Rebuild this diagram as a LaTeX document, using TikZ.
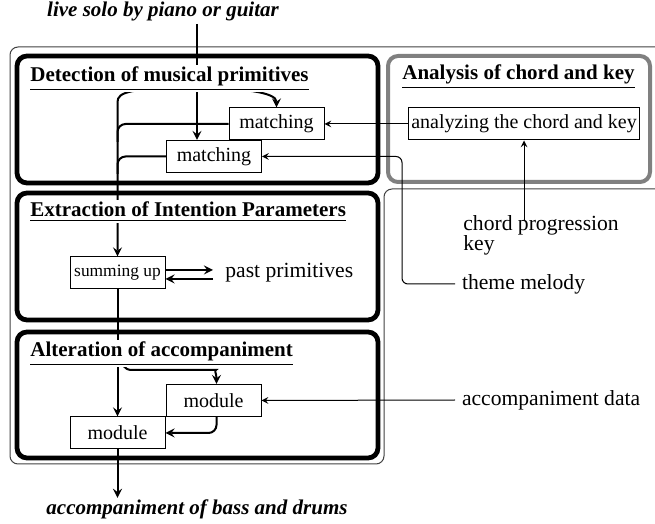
\documentclass[tikz,border=0pt]{standalone}
\usepackage{fontspec}
\setmainfont{Liberation Serif}
\usetikzlibrary{arrows, positioning, calc}
\tikzset{
	stage-box/.style={
		draw=black, line width=2.4pt,
		rounded corners=5pt
	},
	chord-box/.style={
		draw=black!50, line width=2pt,
		rounded corners=5pt
	},
	frame-line/.style={
		draw=black!75, line width=0.5pt,
		rounded corners=4pt
	},
	stage-title/.style={
		font=\fontsize{10.5}{12}\selectfont\bfseries,
		fill=white, inner sep=1pt,
		anchor=base west
	},
	proc-node/.style={
		rectangle,
		draw=black, line width=0.5pt,
		fill=white,
		font=\fontsize{10}{12}\selectfont,
		minimum height=16pt,
		minimum width=47.5pt,
		inner xsep=1.5pt, inner ysep=0pt,
		text centered
	},
	io-text/.style={
		font=\fontsize{10.5}{12}\selectfont\bfseries\itshape,
		inner sep=1pt
	},
	data-text/.style={
		font=\fontsize{10.8}{10}\selectfont,
		align=left, anchor=west
	},
	flow-edge/.style = {line width=1pt, ->, >=stealth, rounded corners=4pt},
	feed-edge/.style = {line width=0.5pt, ->, >=stealth, rounded corners=3pt},
}
\begin{document}
\begin{tikzpicture}[x=0.5pt, y=-0.5pt]
	\useasboundingbox (0,0) rectangle (655,524);
	% frame and stages
	\draw[frame-line] (10,47) -- (664,47) -- (664,189) -- (384,189) -- (384,464) -- (10,464) -- cycle;
	\draw[stage-box] (17,56) rectangle (378,183);
	\draw[chord-box] (388,56) rectangle (650,182);
	\draw[stage-box] (17,193) rectangle (378,320);
	\draw[stage-box] (17,332) rectangle (378,458);

	% processing nodes
	\node (match-a) [proc-node] at (276.5,124) {matching};
	\node (match-b) [proc-node] at (214,156.5) {matching};
	\node (analyze) [proc-node] at (524,124) {analyzing the chord and key};
	\node (sum) [proc-node, font=\fontsize{8.7}{10}\selectfont] at (117.5,273) {summing up};
	\node (mod-a) [proc-node] at (213.5,400.5) {module};
	\node (mod-b) [proc-node] at (117.5,433) {module};

	% inputs and outputs
	\node (solo) [io-text, anchor=base] at (163,17) {live solo by piano or guitar};
	\node (drums) [io-text, anchor=base] at (197,515) {accompaniment of bass and drums};
	\node (chord) [data-text, anchor=base west, inner sep=0pt] at (463,251) {chord progression\\key};
	\node (theme) [data-text] at (455,284) {theme melody};
	\node (past) [data-text, inner xsep=6pt] at (213,273) {past primitives};
	\node (accdata) [data-text] at (455,400) {accompaniment data};

	\coordinate (split) at (197,88);
	\coordinate (alt-split) at (122,362);

	% detection
	\draw[flow-edge, -] (solo.south -| split) -- (split);
	\draw[flow-edge] (split) -- (split |- match-b.north);
	\draw[flow-edge] (split) .. controls (240,88) and (276.5,92) .. (match-a.north);
	\draw[flow-edge] (split) .. controls (130,88) and (117.5,92) .. (117.5,110) -- (sum.north);
	\draw[flow-edge, -] (match-a.west) -- (117.5,124) -- (117.5,142);
	\draw[flow-edge, -] (match-b.west) -- (117.5,156.5) -- (117.5,174);
	\draw[feed-edge] (analyze.west) -- (match-a.east);
	\draw[feed-edge] (theme.west) -- (402,284) |- (match-b.east);
	\draw[feed-edge] ([yshift=-2pt]chord.north -| analyze.south) -- (analyze.south);

	% extraction
	\draw[flow-edge] ([yshift=1.5pt]sum.east) -- ([yshift=1.5pt]sum.east -| past.west);
	\draw[flow-edge] ([yshift=-3pt]past.west) -- ([yshift=-3pt]past.west -| sum.east);

	% alteration
	\draw[flow-edge] (sum.south) -- (mod-b.north);
	\draw[flow-edge] (alt-split) .. controls (124,370) and (130,370) .. (140,370) -- (208,370)
		.. controls (214,370) and (216.5,374) .. ([xshift=1.5pt]mod-a.north);
	\draw[flow-edge] ([xshift=1.5pt]mod-a.south) |- (mod-b.east);
	\draw[feed-edge] (accdata.west) -- (mod-a.east);
	\draw[flow-edge] (mod-b.south) -- (mod-b.south |- drums.north);

	% stage titles
	\node (det-title) [stage-title] at (28,82) {\underline{Detection of musical primitives}};
	\node (ana-title) [stage-title] at (400,80) {\underline{Analysis of chord and key}};
	\node (ext-title) [stage-title] at (28,217) {\underline{Extraction of Intention Parameters}};
	\node (alt-title) [stage-title] at (28,357) {\underline{Alteration of accompaniment}};
\end{tikzpicture}
\end{document}
